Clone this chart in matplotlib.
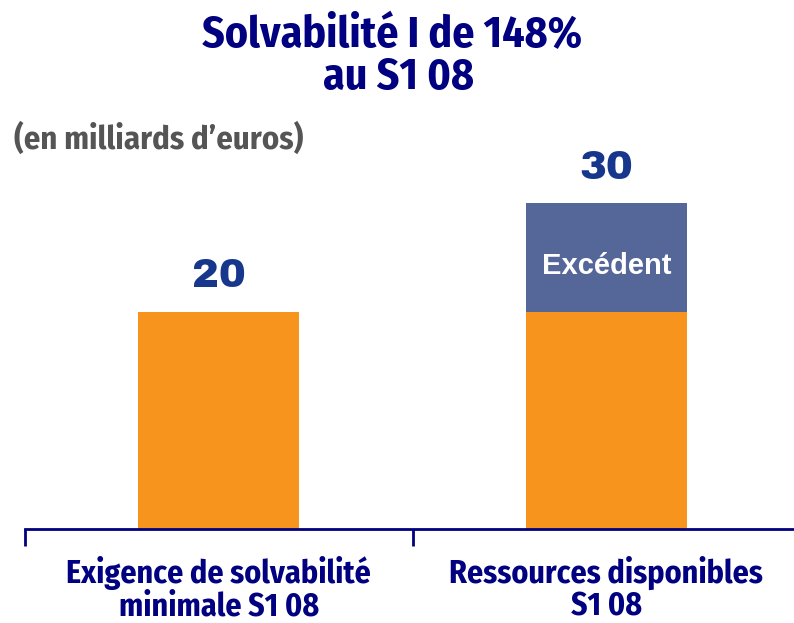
import matplotlib.pyplot as plt
from matplotlib import transforms

# data (milliards d'euros)
categories = [["Exigence de solvabilité", "minimale S1 08"],
              ["Ressources disponibles", "S1 08"]]
base_values = [20, 20]
excess_values = [0, 10]
total_labels = ["20", "30"]

navy = "#000080"
orange = "#F7941E"
slate = "#556699"
num_blue = "#17378C"
cond = ["Fira Sans Condensed", "DejaVu Sans"]

W, H = 794, 623
fig = plt.figure(figsize=(W / 100, H / 100), dpi=100)
ax = fig.add_axes([25 / W, 94 / H, 775 / W, 380 / H])

x = list(range(len(categories)))
ax.bar(x, base_values, width=0.415, color=orange)
ax.bar(x, excess_values, width=0.415, bottom=base_values, color=slate)

# totals above bars
for xi, b, e, lab in zip(x, base_values, excess_values, total_labels):
    ax.annotate(lab, (xi, b + e), xytext=(0, 12), textcoords="offset points",
                ha="center", va="bottom", fontsize=29, color=num_blue,
                family=["Archivo Black", "DejaVu Sans"])
    if e > 0:
        ax.text(xi, b + e * 0.42, "Excédent", ha="center", va="center",
                fontsize=21, fontweight="bold", color="white",
                family="Liberation Sans")

ax.set_xlim(-0.5, 1.5)
ax.set_ylim(0, 35)
ax.set_yticks([])
ax.set_xticks([-0.5, 0.5, 1.5])
ax.set_xticklabels([])
ax.tick_params(axis="x", length=12, width=2, color=navy, direction="out")
for s in ["top", "right", "left"]:
    ax.spines[s].set_visible(False)
ax.spines["bottom"].set_color(navy)
ax.spines["bottom"].set_linewidth(2)

# category labels: x in data units, y in figure units, one text per line
trans = transforms.blended_transform_factory(ax.transData, fig.transFigure)
for xi, lines in zip(x, categories):
    for k, line in enumerate(lines):
        ax.text(xi, 1 - (583 + 33 * k) / H, line, transform=trans,
                ha="center", va="baseline", fontsize=23, fontweight="bold",
                color=navy, family=cond)

# title and unit note
fig.text(392 / W, 1 - 47 / H, "Solvabilité I de 148%", ha="center",
         va="baseline", fontsize=31.5, fontweight="bold", color=navy, family=cond)
fig.text(398 / W, 1 - 89 / H, "au S1 08", ha="center", va="baseline",
         fontsize=31.5, fontweight="bold", color=navy, family=cond)
fig.text(14 / W, 1 - 149 / H, "(en milliards d\u2019euros)", ha="left",
         va="baseline", fontsize=23.5, fontweight="bold", color="#555555",
         family=cond)

fig.savefig("out.png", dpi=100)
